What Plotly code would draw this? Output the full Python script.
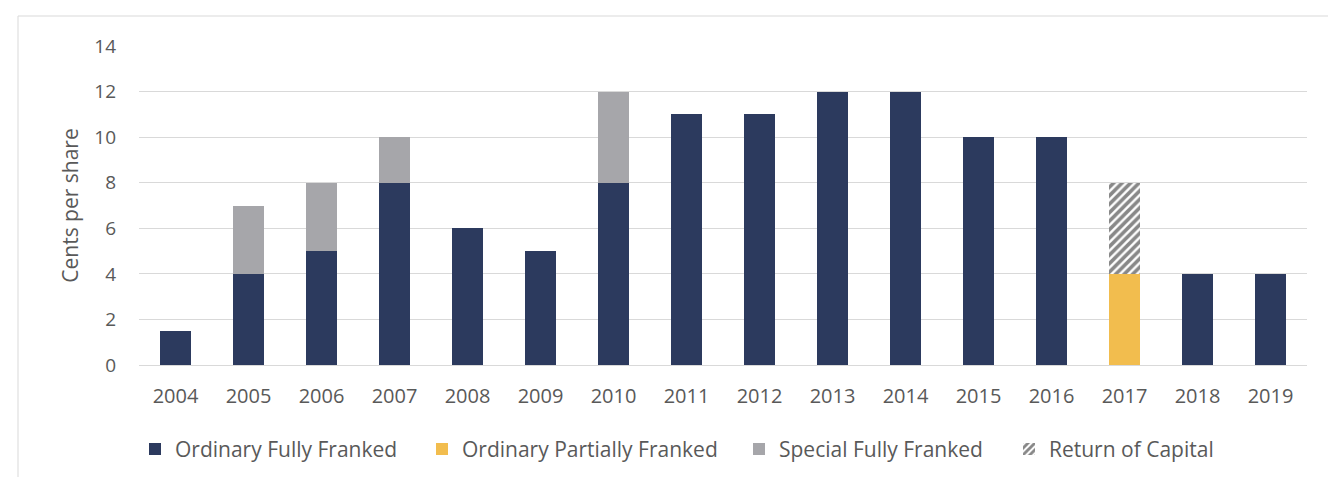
import plotly.graph_objects as go

years = [str(y) for y in range(2004, 2020)]
ordinary_ff = [1.5, 4, 5, 8, 6, 5, 8, 11, 11, 12, 12, 10, 10, 0, 4, 4]
ordinary_pf = [0, 0, 0, 0, 0, 0, 0, 0, 0, 0, 0, 0, 0, 4, 0, 0]
special_ff = [0, 3, 3, 2, 0, 0, 4, 0, 0, 0, 0, 0, 0, 0, 0, 0]
return_cap = [0, 0, 0, 0, 0, 0, 0, 0, 0, 0, 0, 0, 0, 4, 0, 0]

FONT = "Open Sans"
TXT = "#595959"

# page body offset of 8px in the browser
OFF = 8
PL, PR, PT, PB = 139, 1307, 46, 365  # target plot area in viewport pixels
PW, PH = PR - PL, PB - PT

fig = go.Figure()
fig.add_trace(go.Bar(x=years, y=ordinary_ff, name="Ordinary Fully Franked", legend="legend",
                     marker=dict(color="#2C3A5E", line=dict(width=0))))
fig.add_trace(go.Bar(x=years, y=ordinary_pf, name="Ordinary Partially Franked", legend="legend2",
                     marker=dict(color="#F2BD4E", line=dict(width=0))))
fig.add_trace(go.Bar(x=years, y=special_ff, name="Special Fully Franked", legend="legend3",
                     marker=dict(color="#A6A6AA", line=dict(width=0))))
fig.add_trace(go.Bar(x=years, y=return_cap, name="Return of Capital", legend="legend4",
                     marker=dict(color="white", line=dict(width=0),
                                 pattern=dict(shape="/", fgcolor="#111111", bgcolor="white",
                                              size=6, solidity=0.6))))

def leg(text_start_px):
    return dict(orientation="h", x=(text_start_px - 38 - PL) / PW, xanchor="left",
                y=-0.2, yanchor="top", font=dict(family=FONT, size=21, color=TXT),
                itemwidth=30, bgcolor="rgba(0,0,0,0)")

fig.update_layout(
    barmode="stack",
    bargap=0.575,
    width=1336, height=477,
    margin=dict(l=PL - OFF, r=1336 - (PR - OFF), t=PT - OFF, b=477 - (PB - OFF), autoexpand=False),
    paper_bgcolor="white", plot_bgcolor="white",
    font=dict(family=FONT, color=TXT, size=18),
    showlegend=True,
    legend=leg(173), legend2=leg(460), legend3=leg(777), legend4=leg(1047),
    yaxis=dict(range=[0, 14], dtick=2, showgrid=True, gridcolor="#D9D9D9", gridwidth=1,
               zeroline=True, zerolinecolor="#D9D9D9", zerolinewidth=1, automargin=False,
               showline=False, ticks="", ticklabelstandoff=22,
               tickfont=dict(size=19, color=TXT),
               title=dict(text="Cents per share", font=dict(size=21, color=TXT), standoff=9)),
    xaxis=dict(showgrid=False, showline=False, ticks="", tickfont=dict(size=20, color=TXT),
               ticklabelstandoff=17, automargin=False),
    shapes=[dict(type="rect", xref="paper", yref="paper",
                 x0=(18 - PL) / PW, x1=(1335 - PL) / PW, y0=-0.5, y1=(PB - 16) / PH,
                 line=dict(color="#D9D9D9", width=1), layer="below")],
)

fig.write_html("out.html")
